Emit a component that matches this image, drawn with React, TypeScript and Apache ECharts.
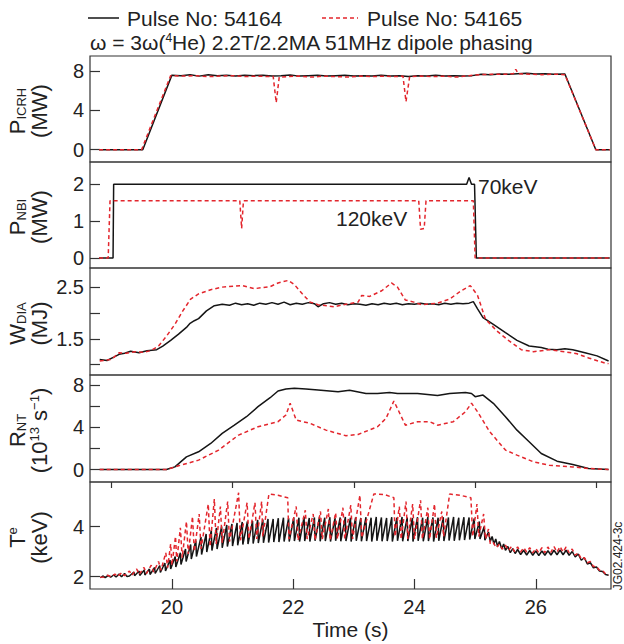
import React, { useEffect, useRef } from 'react';
import * as echarts from 'echarts';

const FONT = "'Liberation Sans', Arial, Helvetica, sans-serif";

// ---- axes / ticks ----
const X_MIN = 18.65;
const X_MAX = 27.24;
const timeTicks = [20, 22, 24, 26];
const timeMinorTicks = [19, 21, 23, 25, 27];

const icrhTicks = [0, 4, 8];
const nbiTicks = [0, 1, 2];
const wdiaTicks = [1.0, 1.5, 2.0, 2.5];
const wdiaLabels = [1.5, 2.5];
const rntTicks = [0, 2, 4, 6, 8];
const rntLabels = [0, 4, 8];
const teTicks = [2, 4];

const seriesNames = ['Pulse No: 54164', 'Pulse No: 54165'];

// ---- P_ICRH (MW) ----
const icrhBlack = [
  [18.8, 0], [19.52, 0], [20.0, 7.6], [20.15, 7.55], [20.3, 7.65], [20.45, 7.5], [20.6, 7.65], [20.75, 7.55],
  [20.9, 7.6], [21.05, 7.5], [21.2, 7.6], [21.35, 7.55], [21.5, 7.6], [21.65, 7.5], [21.8, 7.55], [21.95, 7.62],
  [22.1, 7.5], [22.25, 7.55], [22.4, 7.6], [22.55, 7.5], [22.7, 7.55], [22.85, 7.6], [23.0, 7.5], [23.15, 7.55],
  [23.3, 7.5], [23.45, 7.58], [23.6, 7.5], [23.75, 7.55], [23.9, 7.45], [24.05, 7.55], [24.2, 7.5], [24.35, 7.6],
  [24.5, 7.5], [24.65, 7.55], [24.8, 7.5], [24.95, 7.55], [25.1, 7.7], [25.25, 7.65], [25.4, 7.72], [25.55, 7.7],
  [25.7, 7.75], [25.85, 7.8], [26.0, 7.72], [26.15, 7.75], [26.3, 7.7], [26.48, 7.72], [26.99, 0], [27.22, 0],
];
const icrhRed = [
  [18.8, 0], [19.5, 0], [19.98, 7.55], [20.2, 7.5], [20.4, 7.55], [20.6, 7.45], [20.8, 7.5], [21.0, 7.55],
  [21.2, 7.45], [21.4, 7.5], [21.6, 7.45], [21.67, 7.5], [21.72, 4.8], [21.77, 7.4], [21.9, 7.45], [22.1, 7.5],
  [22.3, 7.4], [22.5, 7.5], [22.7, 7.45], [22.9, 7.4], [23.1, 7.5], [23.3, 7.45], [23.5, 7.5], [23.7, 7.45],
  [23.81, 7.5], [23.86, 4.9], [23.92, 7.45], [24.1, 7.5], [24.3, 7.45], [24.5, 7.5], [24.7, 7.4], [24.9, 7.55],
  [25.1, 7.65], [25.3, 7.7], [25.5, 7.7], [25.63, 7.75], [25.67, 8.2], [25.71, 7.75], [25.9, 7.7], [26.1, 7.65],
  [26.3, 7.7], [26.48, 7.65], [26.99, 0], [27.22, 0],
];

// ---- P_NBI (MW) ----
const nbiBlack = [
  [18.8, 0], [19.03, 0], [19.04, 2.0], [24.86, 2.0], [24.9, 2.18], [24.94, 2.0], [24.99, 2.0], [25.02, 0], [27.22, 0],
];
const nbiRed = [
  [18.8, 0], [18.95, 0], [18.98, 1.55], [21.12, 1.55], [21.15, 0.8], [21.18, 1.55], [24.07, 1.55], [24.1, 0.78],
  [24.16, 0.8], [24.19, 1.55], [24.97, 1.55], [25.0, 0], [27.22, 0],
];

// ---- W_DIA (MJ) ----
const wdiaBlack = [
  [18.81, 1.1], [18.93, 1.08], [19.05, 1.15], [19.13, 1.2], [19.22, 1.22], [19.32, 1.26], [19.46, 1.23], [19.59, 1.27],
  [19.75, 1.29], [19.85, 1.36], [19.98, 1.47], [20.11, 1.59], [20.24, 1.72], [20.3, 1.8], [20.37, 1.85], [20.44, 1.89],
  [20.57, 2.04], [20.7, 2.14], [20.83, 2.17], [20.95, 2.15], [21.05, 2.19], [21.15, 2.16], [21.25, 2.18], [21.35, 2.15],
  [21.45, 2.19], [21.55, 2.17], [21.65, 2.2], [21.75, 2.17], [21.85, 2.21], [21.95, 2.16], [22.05, 2.19], [22.15, 2.17],
  [22.25, 2.2], [22.35, 2.18], [22.41, 2.12], [22.5, 2.18], [22.6, 2.2], [22.7, 2.17], [22.8, 2.19], [22.9, 2.16],
  [23.0, 2.18], [23.1, 2.17], [23.2, 2.15], [23.3, 2.18], [23.4, 2.16], [23.5, 2.19], [23.6, 2.17], [23.7, 2.19],
  [23.8, 2.16], [23.9, 2.18], [24.0, 2.17], [24.1, 2.19], [24.2, 2.17], [24.3, 2.18], [24.4, 2.16], [24.5, 2.19],
  [24.6, 2.17], [24.7, 2.19], [24.8, 2.18], [24.9, 2.19], [24.97, 2.22], [25.04, 2.08], [25.13, 1.91], [25.3, 1.78],
  [25.5, 1.62], [25.69, 1.47], [25.89, 1.36], [26.09, 1.33], [26.2, 1.3], [26.35, 1.29], [26.48, 1.31], [26.61, 1.29],
  [26.81, 1.23], [27.01, 1.17], [27.2, 1.07],
];
const wdiaRed = [
  [18.81, 1.07], [19.0, 1.1], [19.13, 1.23], [19.25, 1.22], [19.39, 1.25], [19.52, 1.24], [19.65, 1.27], [19.78, 1.36],
  [19.91, 1.55], [20.05, 1.78], [20.18, 2.04], [20.31, 2.27], [20.44, 2.37], [20.64, 2.45], [20.83, 2.5], [21.16, 2.53],
  [21.36, 2.47], [21.62, 2.51], [21.75, 2.58], [21.92, 2.63], [22.02, 2.55], [22.15, 2.37], [22.28, 2.21], [22.41, 2.16],
  [22.67, 2.12], [22.87, 2.17], [23.07, 2.21], [23.13, 2.34], [23.26, 2.32], [23.46, 2.43], [23.62, 2.58], [23.72, 2.5],
  [23.85, 2.25], [23.99, 2.21], [24.12, 2.16], [24.38, 2.19], [24.58, 2.27], [24.77, 2.43], [24.92, 2.53], [25.04, 2.34],
  [25.17, 1.88], [25.36, 1.65], [25.56, 1.46], [25.76, 1.29], [25.96, 1.25], [26.22, 1.29], [26.48, 1.25], [26.68, 1.21],
  [26.87, 1.13], [27.14, 1.03], [27.2, 1.02],
];

// ---- R_NT (10^13 s^-1) ----
const rntBlack = [
  [18.81, 0], [19.91, 0], [20.05, 0.25], [20.24, 1.2], [20.44, 1.68], [20.64, 2.47], [20.83, 3.42], [21.03, 4.2],
  [21.23, 5.0], [21.42, 5.95], [21.62, 6.8], [21.75, 7.44], [21.88, 7.63], [22.02, 7.7], [22.21, 7.63], [22.41, 7.53],
  [22.74, 7.37], [22.93, 7.5], [23.2, 7.2], [23.39, 7.2], [23.59, 7.3], [23.72, 7.2], [24.05, 7.2], [24.38, 7.0],
  [24.58, 7.2], [24.84, 7.3], [24.94, 7.2], [25.0, 6.9], [25.13, 7.05], [25.3, 6.27], [25.5, 5.0], [25.69, 3.73],
  [25.89, 2.63], [26.09, 1.52], [26.35, 0.79], [26.61, 0.47], [26.87, 0.1], [27.2, 0],
];
const rntRed = [
  [18.81, 0], [19.91, 0], [20.11, 0.35], [20.44, 0.89], [20.77, 1.84], [21.1, 3.26], [21.42, 4.05], [21.75, 4.53],
  [21.88, 5.16], [21.95, 6.27], [22.05, 4.68], [22.28, 4.37], [22.54, 3.73], [22.87, 3.2], [23.07, 3.32], [23.39, 4.05],
  [23.53, 4.84], [23.66, 6.49], [23.85, 4.2], [24.05, 4.53], [24.25, 4.53], [24.38, 4.2], [24.64, 4.53], [24.84, 5.47],
  [24.94, 6.27], [25.04, 5.47], [25.24, 3.58], [25.5, 1.84], [25.69, 1.36], [25.96, 0.73], [26.22, 0.41], [26.61, 0.25],
  [26.87, 0.1], [27.2, 0],
];

// ---- Te (keV) ----
const teBlack = [
  [18.82, 1.95], [18.86, 2.02], [18.9, 1.96], [18.95, 2.04], [18.99, 1.97], [19.04, 2.06], [19.08, 1.98], [19.13, 2.1],
  [19.17, 1.99], [19.22, 2.12], [19.26, 2.0],
  [19.3, 2.02], [19.375, 2.18], [19.385, 2.03], [19.46, 2.22], [19.47, 2.04], [19.545, 2.26], [19.555, 2.06], [19.63, 2.3],
  [19.64, 2.08], [19.715, 2.36], [19.725, 2.12], [19.8, 2.44], [19.81, 2.16], [19.885, 2.54], [19.895, 2.22], [19.97, 2.66],
  [19.98, 2.3], [20.055, 2.8], [20.065, 2.38], [20.14, 2.95], [20.15, 2.48], [20.225, 3.1], [20.235, 2.6], [20.31, 3.28],
  [20.32, 2.7], [20.395, 3.44], [20.405, 2.8], [20.48, 3.58], [20.49, 2.88], [20.565, 3.7], [20.575, 2.98], [20.65, 3.84],
  [20.66, 3.04], [20.735, 3.94], [20.745, 3.1], [20.82, 4.0], [20.83, 3.15], [20.905, 4.06], [20.915, 3.2], [20.99, 4.1],
  [21.0, 3.22], [21.075, 4.14], [21.085, 3.25], [21.16, 4.18], [21.17, 3.28], [21.245, 4.2], [21.255, 3.3], [21.33, 4.22],
  [21.34, 3.32], [21.415, 4.26], [21.425, 3.34], [21.5, 4.28], [21.51, 3.35], [21.585, 4.3], [21.595, 3.36], [21.67, 4.3],
  [21.68, 3.38], [21.755, 4.33], [21.765, 3.38], [21.84, 4.35], [21.85, 3.4], [21.925, 4.33], [21.935, 3.4], [22.01, 4.36],
  [22.02, 3.42], [22.095, 4.35], [22.105, 3.4], [22.18, 4.38], [22.19, 3.42], [22.265, 4.34], [22.275, 3.4], [22.35, 4.36],
  [22.36, 3.43], [22.435, 4.38], [22.445, 3.41], [22.52, 4.35], [22.53, 3.42], [22.605, 4.37], [22.615, 3.4], [22.69, 4.34],
  [22.7, 3.43], [22.775, 4.36], [22.785, 3.41], [22.86, 4.38], [22.87, 3.42], [22.945, 4.35], [22.955, 3.4], [23.03, 4.36],
  [23.04, 3.43], [23.115, 4.34], [23.125, 3.41], [23.2, 4.37], [23.21, 3.42], [23.285, 4.35], [23.295, 3.4], [23.37, 4.38],
  [23.38, 3.43], [23.455, 4.36], [23.465, 3.41], [23.54, 4.34], [23.55, 3.42], [23.625, 4.37], [23.635, 3.4], [23.71, 4.35],
  [23.72, 3.43], [23.795, 4.38], [23.805, 3.41], [23.88, 4.36], [23.89, 3.42], [23.965, 4.34], [23.975, 3.4], [24.05, 4.37],
  [24.06, 3.43], [24.135, 4.35], [24.145, 3.41], [24.22, 4.38], [24.23, 3.42], [24.305, 4.36], [24.315, 3.4], [24.39, 4.35],
  [24.4, 3.43], [24.475, 4.37], [24.485, 3.42], [24.56, 4.36], [24.57, 3.44], [24.645, 4.38], [24.655, 3.43], [24.73, 4.35],
  [24.74, 3.45], [24.815, 4.37], [24.825, 3.46], [24.9, 4.36], [24.91, 3.48], [24.985, 4.32], [24.995, 3.5], [25.07, 4.2],
  [25.08, 3.5], [25.15, 4.0], [25.16, 3.45], [25.22, 3.78],
  [25.25, 3.4], [25.28, 3.6], [25.31, 3.3], [25.34, 3.5], [25.37, 3.2], [25.4, 3.4], [25.44, 3.1], [25.47, 3.3],
  [25.5, 3.05], [25.54, 3.2], [25.58, 2.95], [25.62, 3.12], [25.66, 2.92], [25.7, 3.08], [25.75, 2.88], [25.8, 3.05],
  [25.85, 2.86], [25.9, 3.04], [25.95, 2.85], [26.0, 3.02], [26.05, 2.84], [26.1, 3.02], [26.15, 2.85], [26.2, 3.03],
  [26.25, 2.86], [26.3, 3.05], [26.35, 2.87], [26.4, 3.06], [26.45, 2.87], [26.5, 3.05], [26.55, 2.85], [26.6, 3.0],
  [26.65, 2.78], [26.7, 2.9], [26.75, 2.65], [26.8, 2.75], [26.85, 2.5], [26.9, 2.55], [26.95, 2.35], [27.0, 2.38],
  [27.05, 2.22], [27.1, 2.2], [27.15, 2.08], [27.2, 2.05],
];
const teRed = [
  [18.82, 1.97], [18.88, 1.98], [18.94, 2.05], [19.0, 1.99], [19.06, 2.1], [19.1, 2.0], [19.18, 2.16], [19.22, 2.03],
  [19.3, 2.22], [19.34, 2.05], [19.42, 2.3], [19.46, 2.08], [19.54, 2.36], [19.58, 2.12], [19.66, 2.45], [19.7, 2.18],
  [19.78, 2.6], [19.82, 2.25], [19.9, 2.95], [19.93, 2.35], [19.98, 3.3], [20.0, 2.45], [20.06, 3.6], [20.08, 2.6],
  [20.14, 3.95], [20.17, 2.75], [20.24, 4.2], [20.27, 2.9], [20.34, 4.4], [20.37, 3.0], [20.45, 4.5], [20.48, 3.1],
  [20.6, 4.9], [20.63, 3.2], [20.7, 5.1], [20.73, 3.3], [20.8, 4.8], [20.83, 3.35], [20.92, 5.0], [20.95, 3.4],
  [21.1, 5.35], [21.13, 3.45], [21.24, 4.95], [21.27, 3.5], [21.37, 4.95], [21.4, 3.5], [21.48, 5.0], [21.5, 3.6],
  [21.6, 5.3], [21.75, 5.25], [21.91, 5.15], [21.93, 3.5], [22.05, 4.8], [22.08, 3.45], [22.2, 4.65], [22.23, 3.5],
  [22.33, 4.5], [22.36, 3.45], [22.45, 4.6], [22.48, 3.5], [22.58, 4.7], [22.61, 3.45], [22.7, 4.55], [22.73, 3.5],
  [22.82, 4.75], [22.85, 3.5], [22.95, 4.85], [22.98, 3.5], [23.1, 5.25], [23.13, 3.55], [23.25, 4.6], [23.33, 5.3],
  [23.5, 5.28], [23.66, 5.15], [23.68, 3.6], [23.75, 4.8], [23.78, 3.5], [23.86, 5.0], [23.89, 3.5], [23.97, 4.9],
  [24.0, 3.5], [24.1, 5.05], [24.13, 3.5], [24.22, 4.75], [24.25, 3.5], [24.33, 4.9], [24.36, 3.55], [24.45, 4.6],
  [24.48, 3.6], [24.58, 5.3], [24.75, 5.25], [24.93, 5.15], [24.96, 3.6], [25.03, 4.9], [25.06, 3.6], [25.14, 4.5],
  [25.17, 3.5], [25.22, 3.9], [25.25, 3.3], [25.3, 3.35], [25.35, 3.15], [25.4, 3.3], [25.45, 3.1], [25.5, 3.25],
  [25.55, 3.05], [25.6, 3.2], [25.65, 3.0], [25.7, 3.18], [25.75, 2.98], [25.8, 3.15], [25.85, 2.98], [25.9, 3.15],
  [25.95, 2.95], [26.0, 3.12], [26.05, 2.95], [26.1, 3.15], [26.15, 2.95], [26.2, 3.18], [26.25, 2.97], [26.3, 3.2],
  [26.35, 2.98], [26.4, 3.2], [26.45, 2.98], [26.5, 3.18], [26.55, 2.95], [26.6, 3.1], [26.65, 2.85], [26.7, 2.95],
  [26.75, 2.7], [26.8, 2.75], [26.85, 2.55], [26.9, 2.6], [26.95, 2.4], [27.0, 2.4], [27.05, 2.25], [27.1, 2.25],
  [27.15, 2.1], [27.2, 2.05],
];

const BLACK = '#151515';
const RED = '#e3262d';
const TXT = '#222';
const RED_DASH = [4, 3];

const panels = [
  { top: 56, height: 106, min: -1.25, max: 9.55, ticks: icrhTicks, labels: icrhTicks, black: icrhBlack, red: icrhRed,
    title: '{b|P}{s|ICRH}\n{b|(MW)}' },
  { top: 162, height: 106, min: -0.27, max: 2.6, ticks: nbiTicks, labels: nbiTicks, black: nbiBlack, red: nbiRed,
    title: '{b|P}{s|NBI}\n{b|(MW)}' },
  { top: 268, height: 107, min: 0.8, max: 2.87, ticks: wdiaTicks, labels: wdiaLabels, black: wdiaBlack, red: wdiaRed,
    title: '{b|W}{s|DIA}\n{b|(MJ)}' },
  { top: 375, height: 107, min: -1.18, max: 8.95, ticks: rntTicks, labels: rntLabels, black: rntBlack, red: rntRed,
    title: '{b|R}{s|NT}\n{b|(10}{p|13}{b| s}{p|−1}{b|)}' },
  { top: 482, height: 107, min: 1.5, max: 5.78, ticks: teTicks, labels: teTicks, black: teBlack, red: teRed,
    title: '{b|T}{p|e}\n{b|(keV)}' },
];

export default function App() {
  const ref = useRef<HTMLDivElement>(null);
  useEffect(() => {
    const chart = echarts.init(ref.current as HTMLDivElement, null, { renderer: 'svg' });
    const grid = panels.map((p) => ({
      left: 90, right: 13, top: p.top, height: p.height,
      show: true, borderColor: '#333', borderWidth: 1.2, backgroundColor: 'transparent',
    }));
    const xAxis: any[] = panels.map((p, i) => {
      const last = i === panels.length - 1;
      return {
        type: 'value', gridIndex: i, min: X_MIN, max: X_MAX,
        show: last,
        axisLine: { show: false },
        splitLine: { show: false },
        axisTick: { show: last, inside: true, length: 10, customValues: timeTicks, lineStyle: { color: '#333', width: 1.2 } },
        axisLabel: { show: last, customValues: timeTicks, fontSize: 20, color: TXT, fontFamily: FONT, margin: 8 },
        name: last ? 'Time (s)' : '',
        nameLocation: 'middle', nameGap: 30,
        nameTextStyle: { fontSize: 21, color: TXT, fontFamily: FONT },
      };
    });
    xAxis.push({
      type: 'value', gridIndex: 4, min: X_MIN, max: X_MAX,
      axisLine: { show: false }, splitLine: { show: false },
      axisTick: { show: true, inside: true, length: 6, customValues: timeMinorTicks, lineStyle: { color: '#333', width: 1.2 } },
      axisLabel: { show: false },
    });
    const yAxis = panels.map((p, i) => ({
      type: 'value', gridIndex: i, min: p.min, max: p.max,
      axisLine: { show: false },
      splitLine: { show: false },
      axisTick: { show: true, inside: true, length: 10, customValues: p.ticks, lineStyle: { color: '#333', width: 1.2 } },
      axisLabel: { customValues: p.labels, fontSize: 20, color: TXT, fontFamily: FONT, margin: 6 },
    }));
    const series: any[] = [];
    panels.forEach((p, i) => {
      series.push({
        name: seriesNames[0], type: 'line', xAxisIndex: i, yAxisIndex: i, data: p.black,
        symbol: 'none', showSymbol: false, lineStyle: { color: BLACK, width: 1.5 }, itemStyle: { color: BLACK },
        z: 2,
      });
      series.push({
        name: seriesNames[1], type: 'line', xAxisIndex: i, yAxisIndex: i, data: p.red,
        symbol: 'none', showSymbol: false, lineStyle: { color: RED, width: 1.5, type: RED_DASH }, itemStyle: { color: RED },
        z: 3,
      });
    });
    const richBase = {
      b: { fontSize: 22, fontFamily: FONT, fill: TXT, lineHeight: 22 },
      s: { fontSize: 13, fontFamily: FONT, fill: TXT, verticalAlign: 'bottom' },
      p: { fontSize: 13, fontFamily: FONT, fill: TXT, verticalAlign: 'top' },
    };
    const titleGraphics = panels.map((p) => ({
      type: 'text', x: 28, y: p.top + p.height / 2 + 2, rotation: Math.PI / 2,
      style: { text: p.title, rich: richBase, align: 'center', verticalAlign: 'middle', fill: TXT },
    }));
    const legendGraphics = [
      { type: 'line', shape: { x1: 88, y1: 18, x2: 119, y2: 18 }, style: { stroke: BLACK, lineWidth: 1.5 } },
      { type: 'text', x: 127, y: 18, style: { text: seriesNames[0], fontSize: 21, fontFamily: FONT, fill: TXT, align: 'left', verticalAlign: 'middle' } },
      { type: 'line', shape: { x1: 322, y1: 18, x2: 358, y2: 18 }, style: { stroke: RED, lineWidth: 1.5, lineDash: RED_DASH } },
      { type: 'text', x: 367, y: 18, style: { text: seriesNames[1], fontSize: 21, fontFamily: FONT, fill: TXT, align: 'left', verticalAlign: 'middle' } },
    ];
    const option: any = {
      animation: false,
      backgroundColor: '#fff',
      grid, xAxis, yAxis, series,
      graphic: [
        ...legendGraphics,
        {
          type: 'text', x: 90, y: 42,
          style: {
            text: '{n|ω = 3ω(}{sp|4}{n|He) 2.2T/2.2MA 51MHz dipole phasing}',
            rich: {
              n: { fontSize: 21, fontFamily: FONT, fill: TXT, lineHeight: 21 },
              sp: { fontSize: 12, fontFamily: FONT, fill: TXT, verticalAlign: 'top' },
            },
            align: 'left', verticalAlign: 'middle',
          },
        },
        ...titleGraphics,
        { type: 'text', x: 478, y: 186, style: { text: '70keV', fontSize: 21, fontFamily: FONT, fill: TXT, align: 'left', verticalAlign: 'middle' } },
        { type: 'text', x: 336, y: 218, style: { text: '120keV', fontSize: 21, fontFamily: FONT, fill: TXT, align: 'left', verticalAlign: 'middle' } },
        { type: 'text', x: 618, y: 556, rotation: Math.PI / 2, style: { text: 'JG02.424-3c', fontSize: 12, fontFamily: FONT, fill: TXT, align: 'center', verticalAlign: 'middle' } },
      ],
    };
    chart.setOption(option);
    return () => chart.dispose();
  }, []);
  return <div ref={ref} style={{ position: 'fixed', left: 0, top: 0, width: 624, height: 644, background: '#fff' }} />;
}
